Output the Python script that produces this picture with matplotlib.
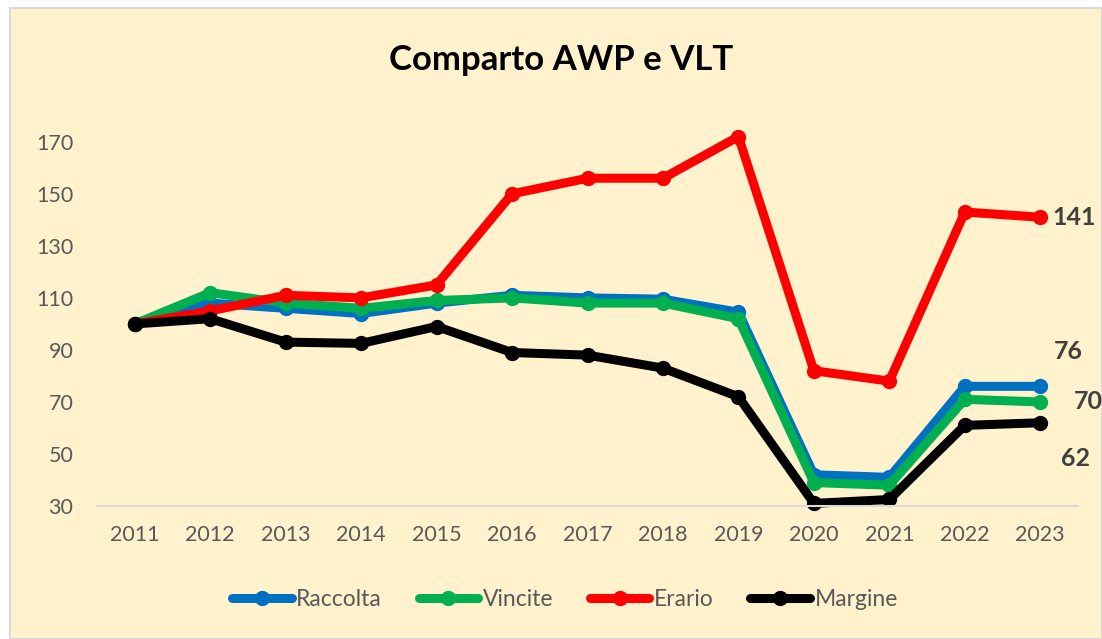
import matplotlib.pyplot as plt
import matplotlib.patches as mpatches

years = [2011, 2012, 2013, 2014, 2015, 2016, 2017, 2018, 2019, 2020, 2021, 2022, 2023]
raccolta = [100, 108, 106, 104, 108, 111, 110, 109.5, 104.5, 42, 41, 76, 76]
vincite = [100, 112, 108, 106, 109, 110, 108, 108, 102, 39, 38, 71, 70]
erario = [100, 105, 111, 110, 115, 150, 156, 156, 172, 82, 78, 143, 141]
margine = [100, 102, 93, 92.5, 99, 89, 88, 83, 72, 31, 32.5, 61, 62]

series = [
    ('Raccolta', raccolta, '#0070C0'),
    ('Vincite', vincite, '#00B050'),
    ('Erario', erario, '#FF0000'),
    ('Margine', margine, '#000000'),
]

plt.rcParams['font.family'] = ['Lato', 'DejaVu Sans']

fig = plt.figure(figsize=(11.02, 6.39), dpi=100)
fig.patch.set_facecolor('white')
bg = mpatches.Rectangle((10 / 1102, 0), 1 - 10 / 1102, 1 - 8 / 639,
                        transform=fig.transFigure, facecolor='#FFF2CC',
                        edgecolor='#D9D9D9', linewidth=1.5, zorder=-10)
fig.patches.append(bg)

ax = fig.add_axes([97 / 1102, 1 - 506 / 639, (1078 - 97) / 1102, (506 - 121) / 639])
ax.set_facecolor('none')

for name, vals, col in series:
    ax.plot(years, vals, color=col, lw=6.5, marker='o', ms=10,
            solid_joinstyle='round', solid_capstyle='round', label=name,
            clip_on=False)

ax.set_xlim(2010.5, 2023.5)
ax.set_ylim(30, 178)
ax.set_xticks(years)
ax.set_yticks(range(30, 171, 20))
ax.tick_params(axis='both', length=0, labelsize=15.5, colors='#595959')
ax.tick_params(axis='y', pad=17)
ax.tick_params(axis='x', pad=14)
for s in ['top', 'right', 'left']:
    ax.spines[s].set_visible(False)
ax.spines['bottom'].set_color('#D9D9D9')
ax.spines['bottom'].set_linewidth(1.5)
ax.spines['bottom'].set_position(('data', 30))

# end labels
lab = dict(fontsize=18, fontweight='bold', color='#404040')
ax.annotate(f'{erario[-1]}', (years[-1], erario[-1]), xytext=(9, 0),
            textcoords='offset points', va='center', ha='left', **lab)
ax.annotate(f'{raccolta[-1]}', (years[-1], raccolta[-1]), xytext=(10, 25),
            textcoords='offset points', va='center', ha='left', **lab)
ax.annotate(f'{vincite[-1]}', (years[-1], vincite[-1]), xytext=(24, 0),
            textcoords='offset points', va='center', ha='left', **lab)
ax.annotate(f'{margine[-1]}', (years[-1], margine[-1]), xytext=(15, -26),
            textcoords='offset points', va='center', ha='left', **lab)

fig.text(561 / 1102, 1 - 60 / 639, 'Comparto AWP e VLT', fontsize=25,
         fontweight='bold', color='black', ha='center', va='center')

leg = fig.legend(loc='center', bbox_to_anchor=(565 / 1102, 1 - 600 / 639),
                 ncol=4, frameon=False, fontsize=16.5, handlelength=2.6,
                 columnspacing=1.6, handletextpad=0.2)
for t in leg.get_texts():
    t.set_color('#595959')

fig.savefig('out.png', dpi=100)
plt.close()
